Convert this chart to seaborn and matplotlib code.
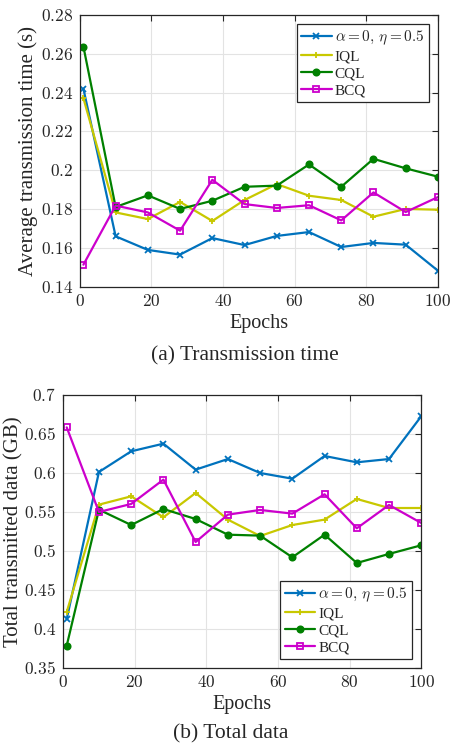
"""
Recreate the two-panel offline RL comparison figure:
(a) average transmission time, (b) total transmitted data, vs. training epochs.
"""

import matplotlib
matplotlib.use("Agg")
import matplotlib.pyplot as plt
from matplotlib.ticker import FuncFormatter
import seaborn as sns
import pandas as pd

# Data
epochs = [1, 10, 19, 28, 37, 46, 55, 64, 73, 82, 91, 100]
methods = [r"$\alpha = 0,\, \eta = 0.5$", "IQL", "CQL", "BCQ"]

time_ours = [0.242, 0.166, 0.159, 0.1566, 0.1651, 0.1615, 0.1662, 0.1682, 0.1605, 0.1626, 0.1617, 0.1483]
time_iql = [0.2371, 0.1783, 0.1749, 0.1837, 0.1739, 0.1847, 0.1929, 0.1869, 0.1847, 0.1761, 0.1801, 0.1797]
time_cql = [0.2637, 0.1811, 0.1871, 0.1801, 0.1843, 0.1915, 0.1921, 0.2030, 0.1915, 0.2059, 0.2010, 0.1967]
time_bcq = [0.1514, 0.1818, 0.1783, 0.1689, 0.1951, 0.1826, 0.1806, 0.1820, 0.1742, 0.1886, 0.1785, 0.1862]

data_ours = [0.4128, 0.6013, 0.6278, 0.6376, 0.6043, 0.6179, 0.6000, 0.5927, 0.6218, 0.6137, 0.6179, 0.6727]
data_iql = [0.4218, 0.5594, 0.5701, 0.5432, 0.5744, 0.5402, 0.5192, 0.5333, 0.5402, 0.5667, 0.5551, 0.5551]
data_cql = [0.3786, 0.5530, 0.5333, 0.5538, 0.5410, 0.5209, 0.5197, 0.4919, 0.5209, 0.4846, 0.4962, 0.5073]
data_bcq = [0.6585, 0.5500, 0.5603, 0.5915, 0.5115, 0.5466, 0.5526, 0.5479, 0.5727, 0.5291, 0.5590, 0.5359]

# Styling per method
COLORS = ["#0072BD", "#C8C800", "#008000", "#CC00CC"]
MARKERS = ["x", "+", "o", "s"]
FILLED = [True, True, True, False]


def to_long(series):
    rows = []
    for name, vals in zip(methods, series):
        for e, v in zip(epochs, vals):
            rows.append({"Epochs": e, "Method": name, "Value": v})
    return pd.DataFrame(rows)


def draw_panel(ax, df, ylabel, ylim, yticks, legend_loc, ylabel_x):
    for name, color, marker, filled in zip(methods, COLORS, MARKERS, FILLED):
        sub = df[df["Method"] == name]
        sns.lineplot(
            data=sub, x="Epochs", y="Value", ax=ax, label=name,
            color=color, marker=marker, markersize=4.5, linewidth=1.6,
            markeredgewidth=1.3, markeredgecolor=color,
            markerfacecolor=color if filled else "none",
        )
    ax.set_xlim(0, 100)
    ax.set_ylim(*ylim)
    ax.set_xticks([0, 20, 40, 60, 80, 100])
    ax.set_yticks(yticks)
    # tick labels look like LaTeX (Computer Modern) in the original
    ax.xaxis.set_major_formatter(FuncFormatter(lambda v, p: f"${v:g}$"))
    ax.yaxis.set_major_formatter(FuncFormatter(lambda v, p: f"${round(v, 3):g}$"))
    ax.set_xlabel("Epochs", fontsize=14.5, labelpad=3)
    ax.set_ylabel(ylabel, fontsize=15)
    ax.yaxis.set_label_coords(ylabel_x, 0.5)
    ax.tick_params(direction="in", top=True, right=True, length=4,
                   width=0.8, color="#262626", labelsize=12.5, pad=5)
    ax.grid(True, color="#E3E3E3", linewidth=0.8)
    for sp in ax.spines.values():
        sp.set_color("#262626")
        sp.set_linewidth(0.9)
    leg = ax.legend(loc=legend_loc, fontsize=11, frameon=True, fancybox=False,
                    edgecolor="#262626", framealpha=1, handlelength=2.0,
                    handletextpad=0.2, borderpad=0.3, labelspacing=0.2,
                    borderaxespad=0.6)
    leg.get_frame().set_linewidth(0.9)


def main():
    sns.set_theme(style="whitegrid")
    plt.rcParams["font.family"] = ["Liberation Serif", "DejaVu Serif"]
    plt.rcParams["mathtext.fontset"] = "cm"

    fig = plt.figure(figsize=(4.51, 7.45), dpi=100)
    ax1 = fig.add_axes([0.177, 0.615, 0.794, 0.365])
    ax2 = fig.add_axes([0.140, 0.1034, 0.794, 0.3664])

    df_time = to_long([time_ours, time_iql, time_cql, time_bcq])
    df_data = to_long([data_ours, data_iql, data_cql, data_bcq])

    # label x positions (axes fraction) put the label's right edge where the original has it
    draw_panel(ax1, df_time, "Average transmission time (s)", (0.14, 0.28),
               [0.14, 0.16, 0.18, 0.20, 0.22, 0.24, 0.26, 0.28], "upper right",
               -0.117)
    draw_panel(ax2, df_data, "Total transmitted data (GB)", (0.35, 0.7),
               [0.35, 0.4, 0.45, 0.5, 0.55, 0.6, 0.65, 0.7], "lower right",
               -0.112)

    fig.text(0.544, 1 - 356 / 745, "(a) Transmission time", ha="center",
             va="center", fontsize=15.5)
    fig.text(0.512, 1 - 734 / 745, "(b) Total data", ha="center",
             va="center", fontsize=15.5)

    fig.savefig("out.png", dpi=100)
    plt.close(fig)


if __name__ == "__main__":
    main()
